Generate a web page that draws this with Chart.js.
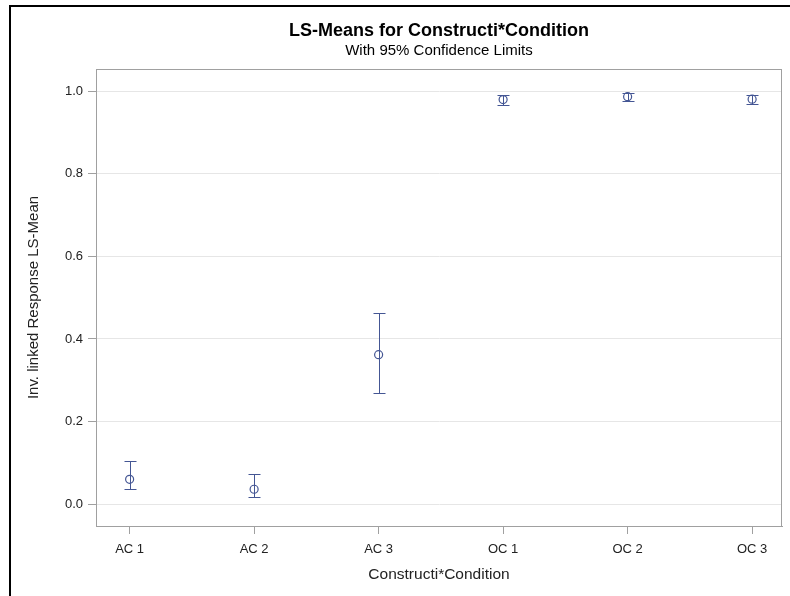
<!DOCTYPE html>
<html><head><meta charset="utf-8">
<script src="https://cdn.jsdelivr.net/npm/chart.js@4.4.1/dist/chart.umd.min.js"></script>
<style>
html,body{margin:0;padding:0;background:#fff;}
#wrap{position:relative;width:790px;height:596px;overflow:hidden;background:#fff;}
#frame{position:absolute;left:9px;top:5px;width:800px;height:600px;border-left:2px solid #000;border-top:2px solid #000;pointer-events:none;}
canvas{position:absolute;left:0;top:0;}
</style></head><body>
<div id="wrap"><canvas id="c" width="790" height="596"></canvas><div id="frame"></div></div>
<script>
const categories = ['AC 1', 'AC 2', 'AC 3', 'OC 1', 'OC 2', 'OC 3'];
const lsMeans = [0.060, 0.036, 0.362, 0.980, 0.987, 0.981];
const lowerCL = [0.036, 0.018, 0.269, 0.966, 0.976, 0.970];
const upperCL = [0.104, 0.072, 0.463, 0.990, 0.995, 0.990];
const yTicks = [0.0, 0.2, 0.4, 0.6, 0.8, 1.0];

const BLUE = '#445694';
Chart.defaults.font.family = "'Liberation Sans', Arial, sans-serif";
Chart.defaults.color = '#222';

const frame = {
  id: 'frame',
  afterDraw(chart) {
    const {ctx, chartArea: a} = chart;
    ctx.save();
    ctx.strokeStyle = '#a0a0a0';
    ctx.lineWidth = 1;
    ctx.strokeRect(Math.round(a.left) + 0.5, Math.round(a.top) + 0.5, Math.round(a.right - a.left) - 1, Math.round(a.bottom - a.top));
    ctx.restore();
  }
};

const errorBars = {
  id: 'errorBars',
  beforeDatasetsDraw(chart) {
    const {ctx, scales: {x, y}} = chart;
    ctx.save();
    ctx.strokeStyle = BLUE;
    ctx.lineWidth = 1;
    categories.forEach((c, i) => {
      const px = Math.round(x.getPixelForValue(i)) + 0.5;
      const yl = Math.round(y.getPixelForValue(lowerCL[i])) + 0.5;
      const yu = Math.round(y.getPixelForValue(upperCL[i])) + 0.5;
      ctx.beginPath();
      ctx.moveTo(px, yu); ctx.lineTo(px, yl);
      ctx.moveTo(px - 6, yu); ctx.lineTo(px + 6, yu);
      ctx.moveTo(px - 6, yl); ctx.lineTo(px + 6, yl);
      ctx.stroke();
    });
    ctx.restore();
  }
};

new Chart(document.getElementById('c'), {
  type: 'scatter',
  data: {
    datasets: [{
      label: 'LS-Mean',
      data: lsMeans.map((v, i) => ({x: i, y: v})),
      pointStyle: 'circle',
      pointRadius: 4,
      pointBorderWidth: 1.2,
      borderColor: BLUE,
      backgroundColor: 'rgba(0,0,0,0)',
      pointBackgroundColor: 'rgba(0,0,0,0)'
    }]
  },
  options: {
    responsive: false,
    animation: false,
    devicePixelRatio: 1,
    layout: {padding: {left: 0, right: 8, top: 0, bottom: 0}},
    plugins: {
      legend: {display: false},
      tooltip: {enabled: false},
      title: {
        display: true,
        fullSize: false,
        text: 'LS-Means for Constructi*Condition',
        color: '#000',
        font: {size: 18, weight: 'bold'},
        padding: {top: 20.7, bottom: 0}
      },
      subtitle: {
        display: true,
        fullSize: false,
        text: 'With 95% Confidence Limits',
        color: '#000',
        font: {size: 15},
        padding: {top: 0, bottom: 8.7}
      }
    },
    scales: {
      x: {
        type: 'linear',
        min: -0.27,
        max: 5.24,
        afterBuildTicks: s => { s.ticks = categories.map((c, i) => ({value: i})); },
        afterFit: s => { s.height = 70; },
        ticks: {
          callback: (v) => categories[Math.round(v)],
          color: '#222',
          font: {size: 13},
          padding: 8,
          maxRotation: 0
        },
        grid: {drawOnChartArea: false, tickLength: 8, tickColor: '#a0a0a0'},
        border: {color: '#a0a0a0'},
        title: {display: true, text: 'Constructi*Condition', color: '#222', font: {size: 15.5}, padding: {top: 0, bottom: 11.7}}
      },
      y: {
        min: -0.053,
        max: 1.054,
        afterBuildTicks: s => { s.ticks = yTicks.map(v => ({value: v})); },
        afterFit: s => { s.width = 96; },
        ticks: {
          callback: v => v.toFixed(1),
          color: '#222',
          font: {size: 13},
          padding: 5
        },
        grid: {color: '#e6e6e6', tickLength: 8, tickColor: '#a0a0a0'},
        border: {color: '#a0a0a0'},
        title: {display: true, text: 'Inv. linked Response LS-Mean', color: '#222', font: {size: 15}, padding: {top: 25, bottom: 0}}
      }
    }
  },
  plugins: [errorBars, frame]
});
</script>
</body></html>
